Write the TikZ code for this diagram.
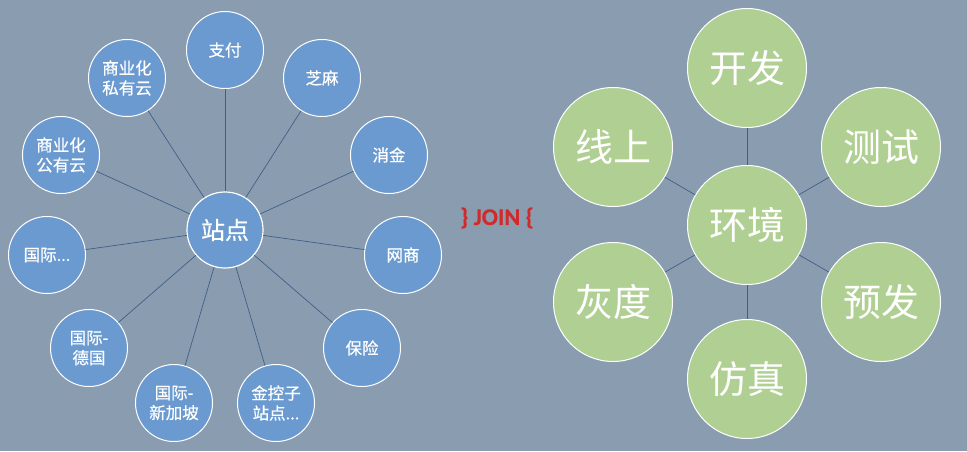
\documentclass[tikz,border=0pt]{standalone}
\usepackage{fontspec}
\setmainfont{Noto Sans CJK SC}
\newfontfamily\sitefont{Noto Sans CJK SC}[FakeBold=0.6]
\newfontfamily\joinfont{Carlito}[FakeBold=0.4]
\usepackage{tikz}
\usetikzlibrary{positioning}
\definecolor{envslate}{HTML}{8A9DB0}
\definecolor{siteblue}{HTML}{6A9ACF}
\definecolor{envgreen}{HTML}{B0CF92}
\definecolor{linkblue}{HTML}{3F5F86}
\definecolor{joinred}{HTML}{D02A2A}

\begin{document}
\begin{tikzpicture}[x=1pt, y=-1pt,
    hub/.style={circle, draw=white, line width=1.2pt, fill=siteblue, text=white, minimum size=76pt, inner sep=0pt, align=center, font=\sitefont\fontsize{24}{28}\selectfont},
    site/.style={circle, draw=white, line width=1pt, fill=siteblue, text=white, minimum size=77pt, inner sep=0pt, align=center, font=\sitefont\fontsize{16.5}{20}\selectfont},
    env/.style={circle, draw=white, line width=1pt, fill=envgreen, text=white, minimum size=119pt, inner sep=0pt, align=center, font=\fontsize{38}{44}\selectfont},
    link/.style={linkblue, line width=0.7pt}
]
    % Background
    \path[fill=envslate] (0,0) rectangle (967,451);

    % Left: sites
    \node[hub] (zhandian) at (225,230) {站点};
    \node[site] (zhifu) at (225,50) {支付};
    \node[site] (zhima) at (322,78) {芝麻};
    \node[site] (xiaojin) at (389,155) {消金};
    \node[site] (wangshang) at (403,255) {网商};
    \node[site] (baoxian) at (362,348) {保险};
    \node[site] (jinkong) at (276,403) {金控子\\站点...};
    \node[site] (xinjiapo) at (174,403) {国际-\\新加坡};
    \node[site] (deguo) at (89,348) {国际-\\德国};
    \node[site] (guoji) at (47,255) {国际...};
    \node[site] (gongyou) at (61,155) {商业化\\公有云};
    \node[site] (siyou) at (127,78) {商业化\\私有云};

    \foreach \s in {zhifu,zhima,xiaojin,wangshang,baoxian,jinkong,xinjiapo,deguo,guoji,gongyou,siyou}
        \draw[link] (zhandian) -- (\s);

    % Middle label
    \node[font=\joinfont\bfseries\fontsize{24}{26}\selectfont, text=joinred] (join) at (497,218) {\}~JOIN~\{};

    % Right: environments
    \node[env] (huanjing) at (747,225) {环境};
    \node[env] (kaifa) at (747,68) {开发};
    \node[env] (ceshi) at (881,147) {测试};
    \node[env] (yufa) at (881,302) {预发};
    \node[env] (fangzhen) at (747,379) {仿真};
    \node[env] (huidu) at (613,302) {灰度};
    \node[env] (xianshang) at (613,147) {线上};

    \foreach \e in {kaifa,ceshi,yufa,fangzhen,huidu,xianshang}
        \draw[link] (huanjing) -- (\e);
\end{tikzpicture}
\end{document}
